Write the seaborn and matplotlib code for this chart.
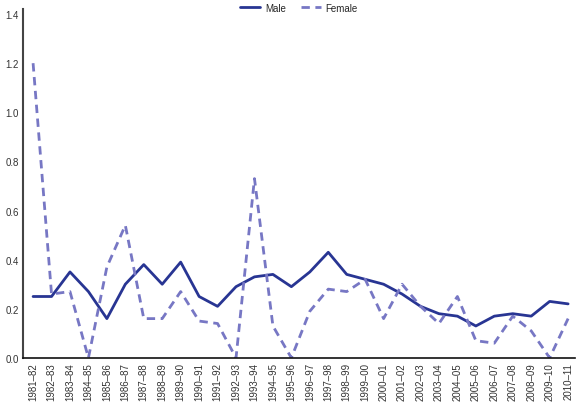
import pandas as pd
import matplotlib
matplotlib.use("Agg")
import matplotlib.pyplot as plt
from matplotlib import font_manager
import seaborn as sns

# ============================================
# Data
# ============================================
years = ["1981–82", "1982–83", "1983–84", "1984–85", "1985–86", "1986–87",
         "1987–88", "1988–89", "1989–90", "1990–91", "1991–92", "1992–93",
         "1993–94", "1994–95", "1995–96", "1996–97", "1997–98", "1998–99",
         "1999–00", "2000–01", "2001–02", "2002–03", "2003–04", "2004–05",
         "2005–06", "2006–07", "2007–08", "2008–09", "2009–10", "2010–11"]

male = [0.25, 0.25, 0.35, 0.27, 0.16, 0.30, 0.38, 0.30, 0.39, 0.25,
        0.21, 0.29, 0.33, 0.34, 0.29, 0.35, 0.43, 0.34, 0.32, 0.30,
        0.26, 0.21, 0.18, 0.17, 0.13, 0.17, 0.18, 0.17, 0.23, 0.22]

female = [1.20, 0.26, 0.27, 0.00, 0.37, 0.54, 0.16, 0.16, 0.27, 0.15,
          0.14, 0.00, 0.73, 0.13, 0.00, 0.19, 0.28, 0.27, 0.32, 0.16,
          0.30, 0.21, 0.14, 0.25, 0.07, 0.06, 0.17, 0.11, 0.00, 0.16]

y_ticks = [0.0, 0.2, 0.4, 0.6, 0.8, 1.0, 1.2, 1.4]

df = pd.DataFrame({"year": years, "Male": male, "Female": female})
long_df = df.melt(id_vars="year", var_name="sex", value_name="rate")
long_df["pos"] = long_df["year"].map({y: i for i, y in enumerate(years)})

# ============================================
# Style
# ============================================
sns.set_style("white")

# narrow font if there is one, otherwise a smaller regular sans
installed = {f.name for f in font_manager.fontManager.ttflist}
if "Liberation Sans Narrow" in installed:
    plt.rcParams["font.family"] = ["Liberation Sans Narrow", "DejaVu Sans"]
    tick_size = 9.5
else:
    plt.rcParams["font.family"] = ["Liberation Sans", "DejaVu Sans"]
    tick_size = 7

fig = plt.figure(figsize=(5.78, 4.06), dpi=100)
ax = fig.add_axes([0.040, 0.116, 0.955, 0.859])

sns.lineplot(data=long_df, x="pos", y="rate", hue="sex", style="sex",
             palette={"Male": "#283593", "Female": "#7777c4"},
             dashes={"Male": "", "Female": (3, 2)},
             linewidth=2, ax=ax)

ax.set_xlim(-0.54, 29.38)
ax.set_ylim(0, 1.42)
ax.set_xticks(range(len(years)))
ax.set_xticklabels(years, rotation=90, fontsize=tick_size, color="#333333")
ax.set_yticks(y_ticks)
ax.set_yticklabels([f"{v:.1f}" for v in y_ticks], fontsize=tick_size, color="#333333")
ax.tick_params(axis="both", length=0, pad=3)
ax.set_xlabel("")
ax.set_ylabel("")

sns.despine(ax=ax)
ax.spines["left"].set_color("#444444")
ax.spines["left"].set_linewidth(1.5)
ax.spines["bottom"].set_color("#111111")
ax.spines["bottom"].set_linewidth(1.2)

handles, labels = ax.get_legend_handles_labels()
ax.legend(handles, labels, loc="upper center", bbox_to_anchor=(0.5, 1.03),
          ncol=2, frameon=False, fontsize=tick_size, handlelength=2.0,
          handletextpad=0.5, columnspacing=1.6, borderaxespad=0)

fig.savefig("out.png", dpi=100)
